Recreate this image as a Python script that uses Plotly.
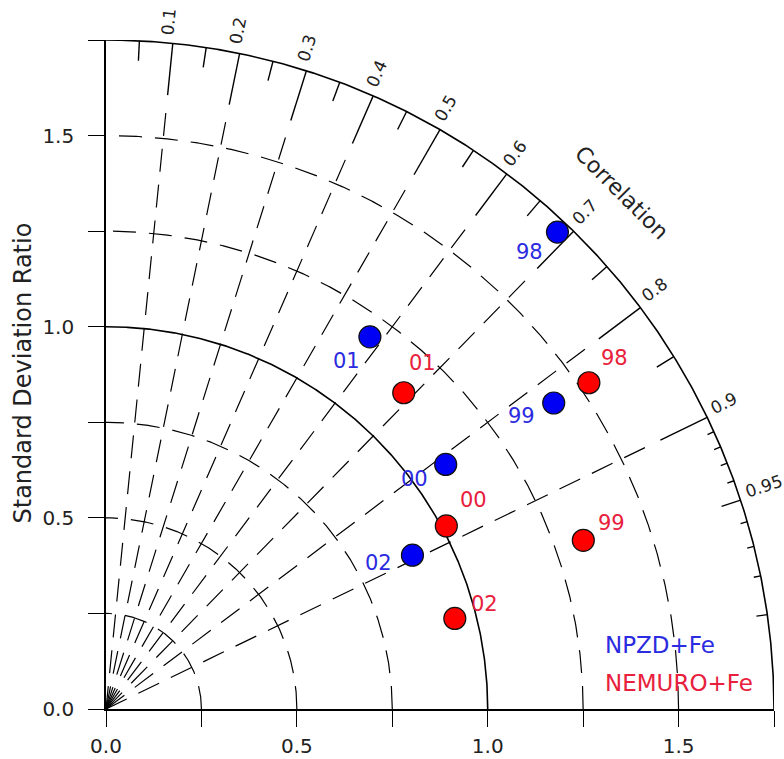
import numpy as np
import plotly.graph_objects as go

# ---- data -------------------------------------------------------------
years = ["98", "99", "00", "01", "02"]

npzd_std = [1.719, 1.420, 1.096, 1.194, 0.898]
npzd_corr = [0.688, 0.826, 0.812, 0.579, 0.894]

nemuro_std = [1.526, 1.326, 1.012, 1.137, 0.944]
nemuro_corr = [0.829, 0.943, 0.881, 0.686, 0.968]

series_names = ["NPZD+Fe", "NEMURO+Fe"]

std_ticks = [0.0, 0.25, 0.5, 0.75, 1.0, 1.25, 1.5, 1.75]
std_ticktext = ["0.0", "", "0.5", "", "1.0", "", "1.5", ""]

corr_labels = [0.1, 0.2, 0.3, 0.4, 0.5, 0.6, 0.7, 0.8, 0.9, 0.95]
corr_rays = [0.1, 0.2, 0.3, 0.4, 0.5, 0.6, 0.7, 0.8, 0.9]
corr_minor = [0.05, 0.15, 0.25, 0.35, 0.45, 0.55, 0.65, 0.75, 0.85]
corr_fine = [0.91, 0.92, 0.93, 0.94, 0.96, 0.97, 0.98]

std_arcs_dashed = [0.25, 0.5, 0.75, 1.25, 1.5]
std_arcs_solid = [1.0, 1.75]

# ---- styling ----------------------------------------------------------
RMAX = 1.75
W, H = 784, 759
M = dict(l=106, r=10, t=40, b=50)
PW, PH = W - M["l"] - M["r"], H - M["t"] - M["b"]
PX = RMAX / PW                      # data units per pixel
FONT = "DejaVu Sans"
BLUE_MK, RED_MK = "#0000f5", "#ff0000"
BLUE_TX, RED_TX = "#2b2be0", "#e8203c"
DASH = "23px,13px"

# per-label nudges (pixels) for the year labels
blue_shift = [(-28, 20), (-32, 13), (-31, 15), (-23, 24), (-34, 8)]
red_shift = [(26, 25), (28, 17), (27, 26), (19, 30), (30, 14)]

fig = go.Figure()


def add_line(x, y, dash="solid", width=1.3):
    fig.add_trace(go.Scatter(x=x, y=y, mode="lines", hoverinfo="skip",
                             line=dict(color="black", width=width, dash=dash),
                             cliponaxis=False, showlegend=False))


# standard-deviation arcs about the origin
t = np.linspace(0, np.pi / 2, 500)
for r in std_arcs_dashed:
    add_line(r * np.cos(t), r * np.sin(t), dash=DASH, width=1.2)
for r in std_arcs_solid:
    add_line(r * np.cos(t), r * np.sin(t), width=1.6)

# correlation rays: dashed from the origin, solid near the rim
for c in corr_rays:
    a = np.arccos(c)
    r_dash = RMAX - 64 * PX
    r_solid = RMAX - 52 * PX
    add_line([0, r_dash * np.cos(a)], [0, r_dash * np.sin(a)], dash=DASH, width=1.2)
    add_line([r_solid * np.cos(a), RMAX * np.cos(a)],
             [r_solid * np.sin(a), RMAX * np.sin(a)], width=1.4)


def rim_ticks(values, length_px, width=1.4):
    xs, ys = [], []
    for c in values:
        a = np.arccos(c)
        r0 = RMAX - length_px * PX
        xs += [r0 * np.cos(a), RMAX * np.cos(a), None]
        ys += [r0 * np.sin(a), RMAX * np.sin(a), None]
    add_line(xs, ys, width=width)


rim_ticks(corr_minor, 20)
rim_ticks([0.95], 20)
rim_ticks([0.99], 11)
rim_ticks(corr_fine, 7)


# ---- model points -------------------------------------------------------
def to_xy(std, corr):
    std = np.asarray(std)
    a = np.arccos(np.asarray(corr))
    return std * np.cos(a), std * np.sin(a)


bx, by = to_xy(npzd_std, npzd_corr)
rx, ry = to_xy(nemuro_std, nemuro_corr)

for (x, y, mk, name) in [(bx, by, BLUE_MK, series_names[0]),
                         (rx, ry, RED_MK, series_names[1])]:
    fig.add_trace(go.Scatter(x=x, y=y, mode="markers", name=name,
                             marker=dict(size=22, color=mk,
                                         line=dict(color="#111", width=1.2)),
                             cliponaxis=False, showlegend=False))

ann = []
for x, y, lab, (dx, dy) in zip(bx, by, years, blue_shift):
    ann.append(dict(x=x, y=y, text=lab, showarrow=False, xshift=dx, yshift=-dy,
                    font=dict(family=FONT, size=21, color=BLUE_TX)))
for x, y, lab, (dx, dy) in zip(rx, ry, years, red_shift):
    ann.append(dict(x=x, y=y, text=lab, showarrow=False, xshift=dx, yshift=dy,
                    font=dict(family=FONT, size=21, color=RED_TX)))


def paper(x, y):
    # plot-area fraction for a point given in data units (equal x/y range)
    return x / RMAX, y / RMAX


# correlation labels around the rim (baseline sits on the ray)
for c in corr_labels:
    a = np.arccos(c)
    s = f"{c:g}"
    w = 17 * (0.636 * (len(s) - 1) + 0.318)
    r = RMAX + (8 + w / 2) * PX
    lift = 6 * PX
    lx = r * np.cos(a) - lift * np.sin(a)
    ly = r * np.sin(a) + lift * np.cos(a)
    px_, py_ = paper(lx, ly)
    ann.append(dict(xref="paper", yref="paper", x=px_, y=py_, text=s,
                    showarrow=False, textangle=-np.degrees(a),
                    xanchor="center", yanchor="middle",
                    font=dict(family=FONT, size=17, color="#222")))

# arc title
a = np.radians(45.0)
px_, py_ = paper(1.91 * np.cos(a), 1.91 * np.sin(a))
ann.append(dict(xref="paper", yref="paper", x=px_, y=py_, text="Correlation",
                showarrow=False, textangle=45, xanchor="center", yanchor="middle",
                font=dict(family=FONT, size=22, color="#222")))

# y-axis title
ann.append(dict(xref="paper", yref="paper", x=(22.5 - M["l"]) / PW,
                y=(H - M["b"] - 373) / PH,
                text="Standard Deviation Ratio", showarrow=False, textangle=-90,
                xanchor="center", yanchor="middle",
                font=dict(family=FONT, size=24, color="#222")))

# legend text
ann.append(dict(x=1.301, y=0.168, text=series_names[0], showarrow=False,
                xanchor="left", yanchor="middle",
                font=dict(family=FONT, size=23, color=BLUE_TX)))
ann.append(dict(x=1.301, y=0.068, text=series_names[1], showarrow=False,
                xanchor="left", yanchor="middle",
                font=dict(family=FONT, size=23, color=RED_TX)))

axis_common = dict(range=[0, RMAX], showgrid=False, zeroline=False,
                   showline=True, linecolor="black", linewidth=1.6,
                   ticks="outside", ticklen=16, tickwidth=1.4, tickcolor="black",
                   tickvals=std_ticks, ticktext=std_ticktext, automargin=False,
                   tickfont=dict(family=FONT, size=20, color="#222"))

fig.update_xaxes(**axis_common, ticklabelstandoff=2)
fig.update_yaxes(**axis_common, ticklabelstandoff=10)

fig.update_layout(width=W, height=H, margin=M, plot_bgcolor="white",
                  paper_bgcolor="white", showlegend=False, annotations=ann,
                  font=dict(family=FONT))

fig.write_html("out.html")
